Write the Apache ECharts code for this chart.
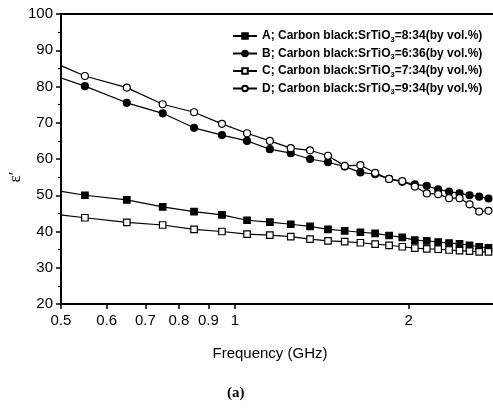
<!DOCTYPE html>
<html>
<head>
<meta charset="utf-8">
<script src="https://cdn.jsdelivr.net/npm/echarts@6/dist/echarts.min.js"></script>
<style>
html,body{margin:0;padding:0;background:#fff;}
#chart{width:493px;height:410px;}
</style>
</head>
<body>
<div id="chart"></div>
<script>
const freq = [0.45,0.55,0.65,0.75,0.85,0.95,1.05,1.15,1.25,1.35,1.45,1.55,1.65,1.75,1.85,1.95,2.05,2.15,2.25,2.35,2.45,2.55,2.65,2.75];
const seriesA = [52.3,50.0,48.7,46.8,45.5,44.6,43.1,42.6,42.0,41.4,40.6,40.2,39.8,39.5,38.9,38.4,37.6,37.4,37.1,36.8,36.6,36.2,35.8,35.5];
const seriesB = [84.8,80.1,75.5,72.6,68.6,66.6,65.0,62.7,61.6,60.0,59.1,57.9,56.3,55.8,54.5,53.7,53.0,52.6,51.6,51.0,50.5,50.0,49.6,49.1];
const seriesC = [45.4,43.8,42.5,41.8,40.6,40.0,39.3,39.0,38.6,37.9,37.4,37.2,36.9,36.5,36.2,35.8,35.4,35.2,35.1,34.9,34.7,34.6,34.4,34.4];
const seriesD = [88.9,82.9,79.7,75.1,72.9,69.7,67.1,65.0,63.0,62.4,60.9,58.1,58.3,56.2,54.5,53.9,52.4,50.5,50.3,49.2,49.2,47.5,45.5,45.7];
const xTicks = [0.5,0.6,0.7,0.8,0.9,1,2];
const yTicks = [20,30,40,50,60,70,80,90,100];
const legendPrefix = ['A; Carbon black:SrTiO','B; Carbon black:SrTiO','C; Carbon black:SrTiO','D; Carbon black:SrTiO'];
const legendSuffix = ['=8:34(by vol.%)','=6:36(by vol.%)','=7:34(by vol.%)','=9:34(by vol.%)'];
const names = ['A','B','C','D'];
const values = [seriesA, seriesB, seriesC, seriesD];
const symbols = ['rect','circle','rect','circle'];
const filled = [true,true,false,false];

const chart = echarts.init(document.getElementById('chart'), null, {renderer:'canvas'});
const font = 'Liberation Sans, Arial, sans-serif';

const series = names.map((n,i)=>({
  name: n,
  type: 'line',
  xAxisIndex: 0,
  data: freq.map((f,j)=>[f, values[i][j]]),
  symbol: symbols[i],
  symbolSize: symbols[i]==='rect' ? 6.5 : 7,
  showAllSymbol: true,
  clip: true,
  lineStyle: {color:'#000', width:1.2},
  itemStyle: {color: filled[i] ? '#000' : '#fff', borderColor:'#000', borderWidth:1.2},
  emphasis: {disabled:true},
  animation: false
}));

chart.setOption({
  animation: false,
  backgroundColor: '#fff',
  grid: {left:61, top:14, right:0, bottom:106, containLabel:false, outerBoundsMode:'none'},
  title: {
    text: '(a)', left: 222, top: 381,
    textStyle: {fontFamily:'Liberation Serif, serif', fontWeight:'bold', fontSize:15, color:'#000'}
  },
  legend: {
    orient: 'vertical',
    left: 227, top: 25,
    itemWidth: 24, itemHeight: 7, itemGap: 4,
    data: names,
    formatter: function(name){
      const i = names.indexOf(name);
      return '{a|' + legendPrefix[i] + '}{s|3}{a|' + legendSuffix[i] + '}';
    },
    textStyle: {
      color:'#000',
      rich: {
        a: {fontFamily: font, fontWeight:'bold', fontSize:12, color:'#000'},
        s: {fontFamily: font, fontWeight:'bold', fontSize:7.5, color:'#000', padding:[7,0,0,0]}
      }
    }
  },
  xAxis: [{
    type: 'log',
    min: 0.5, max: 2.8,
    position: 'bottom',
    name: 'Frequency (GHz)',
    nameLocation: 'middle',
    nameGap: 42,
    nameTextStyle: {fontFamily: font, fontSize:15, color:'#000', padding:[0,14,0,0]},
    axisLine: {lineStyle:{color:'#000', width:2}},
    axisTick: {show:true, inside:false, length:5, lineStyle:{color:'#000', width:1.5}, customValues: xTicks},
    axisLabel: {fontFamily: font, fontSize:15, color:'#000', margin:9, customValues: xTicks,
      formatter: v => String(v)},
    minorTick: {show:false},
    splitLine: {show:false}
  },{
    type: 'log',
    min: 0.5, max: 2.8,
    position: 'top',
    axisLine: {show:true, lineStyle:{color:'#000', width:2}},
    axisTick: {show:false},
    axisLabel: {show:false},
    splitLine: {show:false}
  }],
  yAxis: {
    type: 'value',
    min: 20, max: 100, interval: 10,
    name: 'ε′',
    nameLocation: 'middle',
    nameRotate: 90,
    nameGap: 37,
    nameMoveOverlap: false,
    nameTextStyle: {fontFamily:'Liberation Serif, serif', fontSize:17, color:'#000', padding:[0,0,0,-36]},
    axisLine: {show:true, lineStyle:{color:'#000', width:2}},
    axisTick: {show:true, length:5, lineStyle:{color:'#000', width:1.5}},
    minorTick: {show:true, splitNumber:2, length:3, lineStyle:{color:'#000', width:1.2}},
    axisLabel: {fontFamily: font, fontSize:15, color:'#000', margin:8},
    splitLine: {show:false}
  },
  series: series
});
</script>
</body>
</html>
